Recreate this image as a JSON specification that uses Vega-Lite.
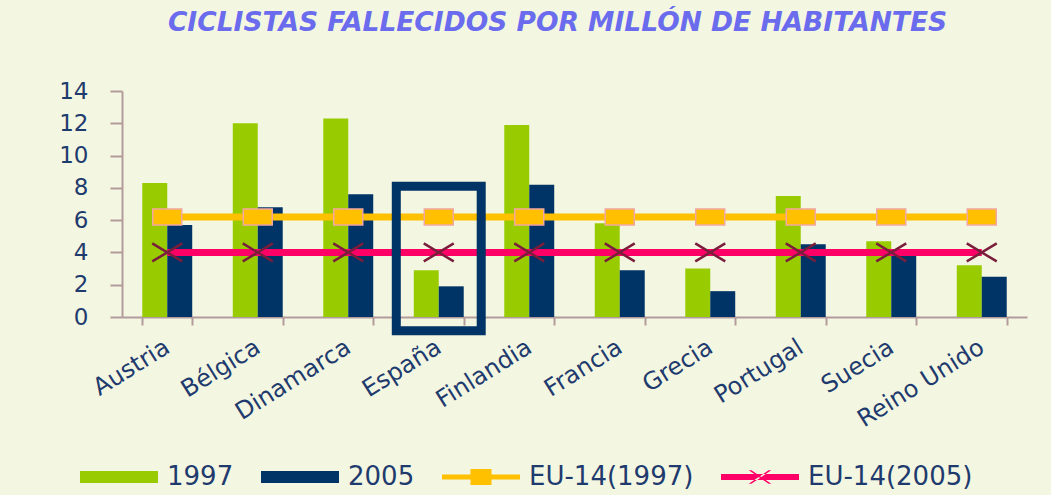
{
  "$schema": "https://vega.github.io/schema/vega-lite/v6.json",
  "width": 905,
  "height": 226,
  "autosize": {"type": "none"},
  "padding": {"left": 122, "top": 91, "right": 24, "bottom": 178},
  "background": "#F3F7E2",
  "title": {
    "text": "CICLISTAS FALLECIDOS POR MILLÓN DE HABITANTES",
    "font": "DejaVu Sans",
    "fontSize": 26.5,
    "fontWeight": "bold",
    "fontStyle": "italic",
    "color": "#6B6BEE",
    "anchor": "middle",
    "frame": "group",
    "baseline": "alphabetic",
    "offset": 23,
    "dx": -17
  },
  "config": {
    "view": {"stroke": null},
    "axis": {
      "domainColor": "#B39B9B",
      "domainWidth": 2,
      "tickColor": "#B39B9B",
      "tickWidth": 2,
      "labelFont": "DejaVu Sans",
      "labelColor": "#1F3B6E",
      "grid": false,
      "title": null
    }
  },
  "datasets": {
    "barras": [
      {"pais": "Austria", "serie": "1997", "valor": 8.3},
      {"pais": "Austria", "serie": "2005", "valor": 5.7},
      {"pais": "Bélgica", "serie": "1997", "valor": 12.0},
      {"pais": "Bélgica", "serie": "2005", "valor": 6.8},
      {"pais": "Dinamarca", "serie": "1997", "valor": 12.3},
      {"pais": "Dinamarca", "serie": "2005", "valor": 7.6},
      {"pais": "España", "serie": "1997", "valor": 2.9},
      {"pais": "España", "serie": "2005", "valor": 1.9},
      {"pais": "Finlandia", "serie": "1997", "valor": 11.9},
      {"pais": "Finlandia", "serie": "2005", "valor": 8.2},
      {"pais": "Francia", "serie": "1997", "valor": 5.8},
      {"pais": "Francia", "serie": "2005", "valor": 2.9},
      {"pais": "Grecia", "serie": "1997", "valor": 3.0},
      {"pais": "Grecia", "serie": "2005", "valor": 1.6},
      {"pais": "Portugal", "serie": "1997", "valor": 7.5},
      {"pais": "Portugal", "serie": "2005", "valor": 4.5},
      {"pais": "Suecia", "serie": "1997", "valor": 4.7},
      {"pais": "Suecia", "serie": "2005", "valor": 4.2},
      {"pais": "Reino Unido", "serie": "1997", "valor": 3.2},
      {"pais": "Reino Unido", "serie": "2005", "valor": 2.5}
    ],
    "lineas": [
      {"pais": "Austria", "serie": "EU-14(1997)", "valor": 6.2},
      {"pais": "Bélgica", "serie": "EU-14(1997)", "valor": 6.2},
      {"pais": "Dinamarca", "serie": "EU-14(1997)", "valor": 6.2},
      {"pais": "España", "serie": "EU-14(1997)", "valor": 6.2},
      {"pais": "Finlandia", "serie": "EU-14(1997)", "valor": 6.2},
      {"pais": "Francia", "serie": "EU-14(1997)", "valor": 6.2},
      {"pais": "Grecia", "serie": "EU-14(1997)", "valor": 6.2},
      {"pais": "Portugal", "serie": "EU-14(1997)", "valor": 6.2},
      {"pais": "Suecia", "serie": "EU-14(1997)", "valor": 6.2},
      {"pais": "Reino Unido", "serie": "EU-14(1997)", "valor": 6.2},
      {"pais": "Austria", "serie": "EU-14(2005)", "valor": 4.0},
      {"pais": "Bélgica", "serie": "EU-14(2005)", "valor": 4.0},
      {"pais": "Dinamarca", "serie": "EU-14(2005)", "valor": 4.0},
      {"pais": "España", "serie": "EU-14(2005)", "valor": 4.0},
      {"pais": "Finlandia", "serie": "EU-14(2005)", "valor": 4.0},
      {"pais": "Francia", "serie": "EU-14(2005)", "valor": 4.0},
      {"pais": "Grecia", "serie": "EU-14(2005)", "valor": 4.0},
      {"pais": "Portugal", "serie": "EU-14(2005)", "valor": 4.0},
      {"pais": "Suecia", "serie": "EU-14(2005)", "valor": 4.0},
      {"pais": "Reino Unido", "serie": "EU-14(2005)", "valor": 4.0}
    ],
    "marco": [
      {"pais": "España", "valor": 8.1, "abajo": -0.85}
    ]
  },
  "encoding": {
    "x": {
      "field": "pais",
      "type": "nominal",
      "scale": {
        "domain": ["Austria", "Bélgica", "Dinamarca", "España", "Finlandia", "Francia", "Grecia", "Portugal", "Suecia", "Reino Unido"],
        "paddingInner": 0.448,
        "paddingOuter": 0.224
      },
      "axis": {
        "labelAngle": -32,
        "labelAlign": "right",
        "labelBaseline": "middle",
        "labelFontSize": 24,
        "labelPadding": 20,
        "labelOverlap": false,
        "tickSize": 8,
        "tickBand": "extent"
      }
    },
    "y": {
      "field": "valor",
      "type": "quantitative",
      "scale": {"domain": [0, 14], "nice": false},
      "axis": {
        "values": [0, 2, 4, 6, 8, 10, 12, 14],
        "labelOverlap": false,
        "labelFontSize": 23,
        "tickSize": 12,
        "labelPadding": 22
      }
    }
  },
  "layer": [
    {
      "data": {"name": "barras"},
      "mark": {"type": "bar"},
      "encoding": {
        "xOffset": {"field": "serie", "type": "nominal", "scale": {"paddingInner": 0, "paddingOuter": 0}},
        "color": {
          "field": "serie",
          "type": "nominal",
          "scale": {
            "domain": ["1997", "2005", "EU-14(1997)", "EU-14(2005)"],
            "range": ["#99CC00", "#003366", "#FFC000", "#FF0066"]
          },
          "legend": {
            "title": null,
            "orient": "none",
            "legendX": -42,
            "legendY": 347,
            "direction": "horizontal",
            "symbolType": "M-1,-0.154H1V0.154H-1Z",
            "symbolSize": 6084,
            "symbolStrokeWidth": 0,
            "labelFont": "DejaVu Sans",
            "labelFontSize": 26,
            "labelColor": "#1F3B6E",
            "labelLimit": 400,
            "labelOffset": 9,
            "columnPadding": 27,
            "encode": {
              "symbols": {
                "update": {
                  "shape": {"signal": "datum.value === 'EU-14(1997)' ? 'M-1,-0.064H1V0.064H-1Z M-0.27,-0.205H0.27V0.205H-0.27Z' : datum.value === 'EU-14(2005)' ? 'M-1,-0.077H1V0.077H-1Z M-0.29,-0.17H-0.22L0.29,0.17H0.22Z M0.29,-0.17H0.22L-0.29,0.17H-0.22Z' : 'M-1,-0.154H1V0.154H-1Z'"},
                  "fill": {"signal": "datum.value === '1997' ? '#99CC00' : datum.value === '2005' ? '#003366' : datum.value === 'EU-14(1997)' ? '#FFC000' : '#FF0066'"},
                  "stroke": {"value": "transparent"},
                  "opacity": {"value": 1},
                  "fillOpacity": {"value": 1}
                }
              }
            }
          }
        }
      }
    },
    {
      "data": {"name": "lineas"},
      "mark": {"type": "line", "strokeWidth": 7},
      "encoding": {
        "color": {"field": "serie", "type": "nominal"}
      }
    },
    {
      "data": {"name": "lineas"},
      "transform": [{"filter": "datum.serie === 'EU-14(1997)'"}],
      "mark": {
        "type": "point",
        "shape": "M-1,-0.55H1V0.55H-1Z",
        "filled": true,
        "size": 841,
        "fill": "#FFC000",
        "stroke": "#F2A7A0",
        "strokeWidth": 1.5,
        "opacity": 1
      }
    },
    {
      "data": {"name": "lineas"},
      "transform": [{"filter": "datum.serie === 'EU-14(2005)'"}],
      "mark": {
        "type": "point",
        "shape": "M-1,-0.6L1,0.6M-1,0.6L1,-0.6",
        "filled": false,
        "size": 900,
        "stroke": "#7A1E3C",
        "strokeWidth": 2.5,
        "opacity": 1
      }
    },
    {
      "data": {"name": "marco"},
      "mark": {
        "type": "bar",
        "width": {"band": 1.7},
        "fill": "transparent",
        "stroke": "#003366",
        "strokeWidth": 9
      },
      "encoding": {
        "y2": {"field": "abajo"}
      }
    }
  ]
}
